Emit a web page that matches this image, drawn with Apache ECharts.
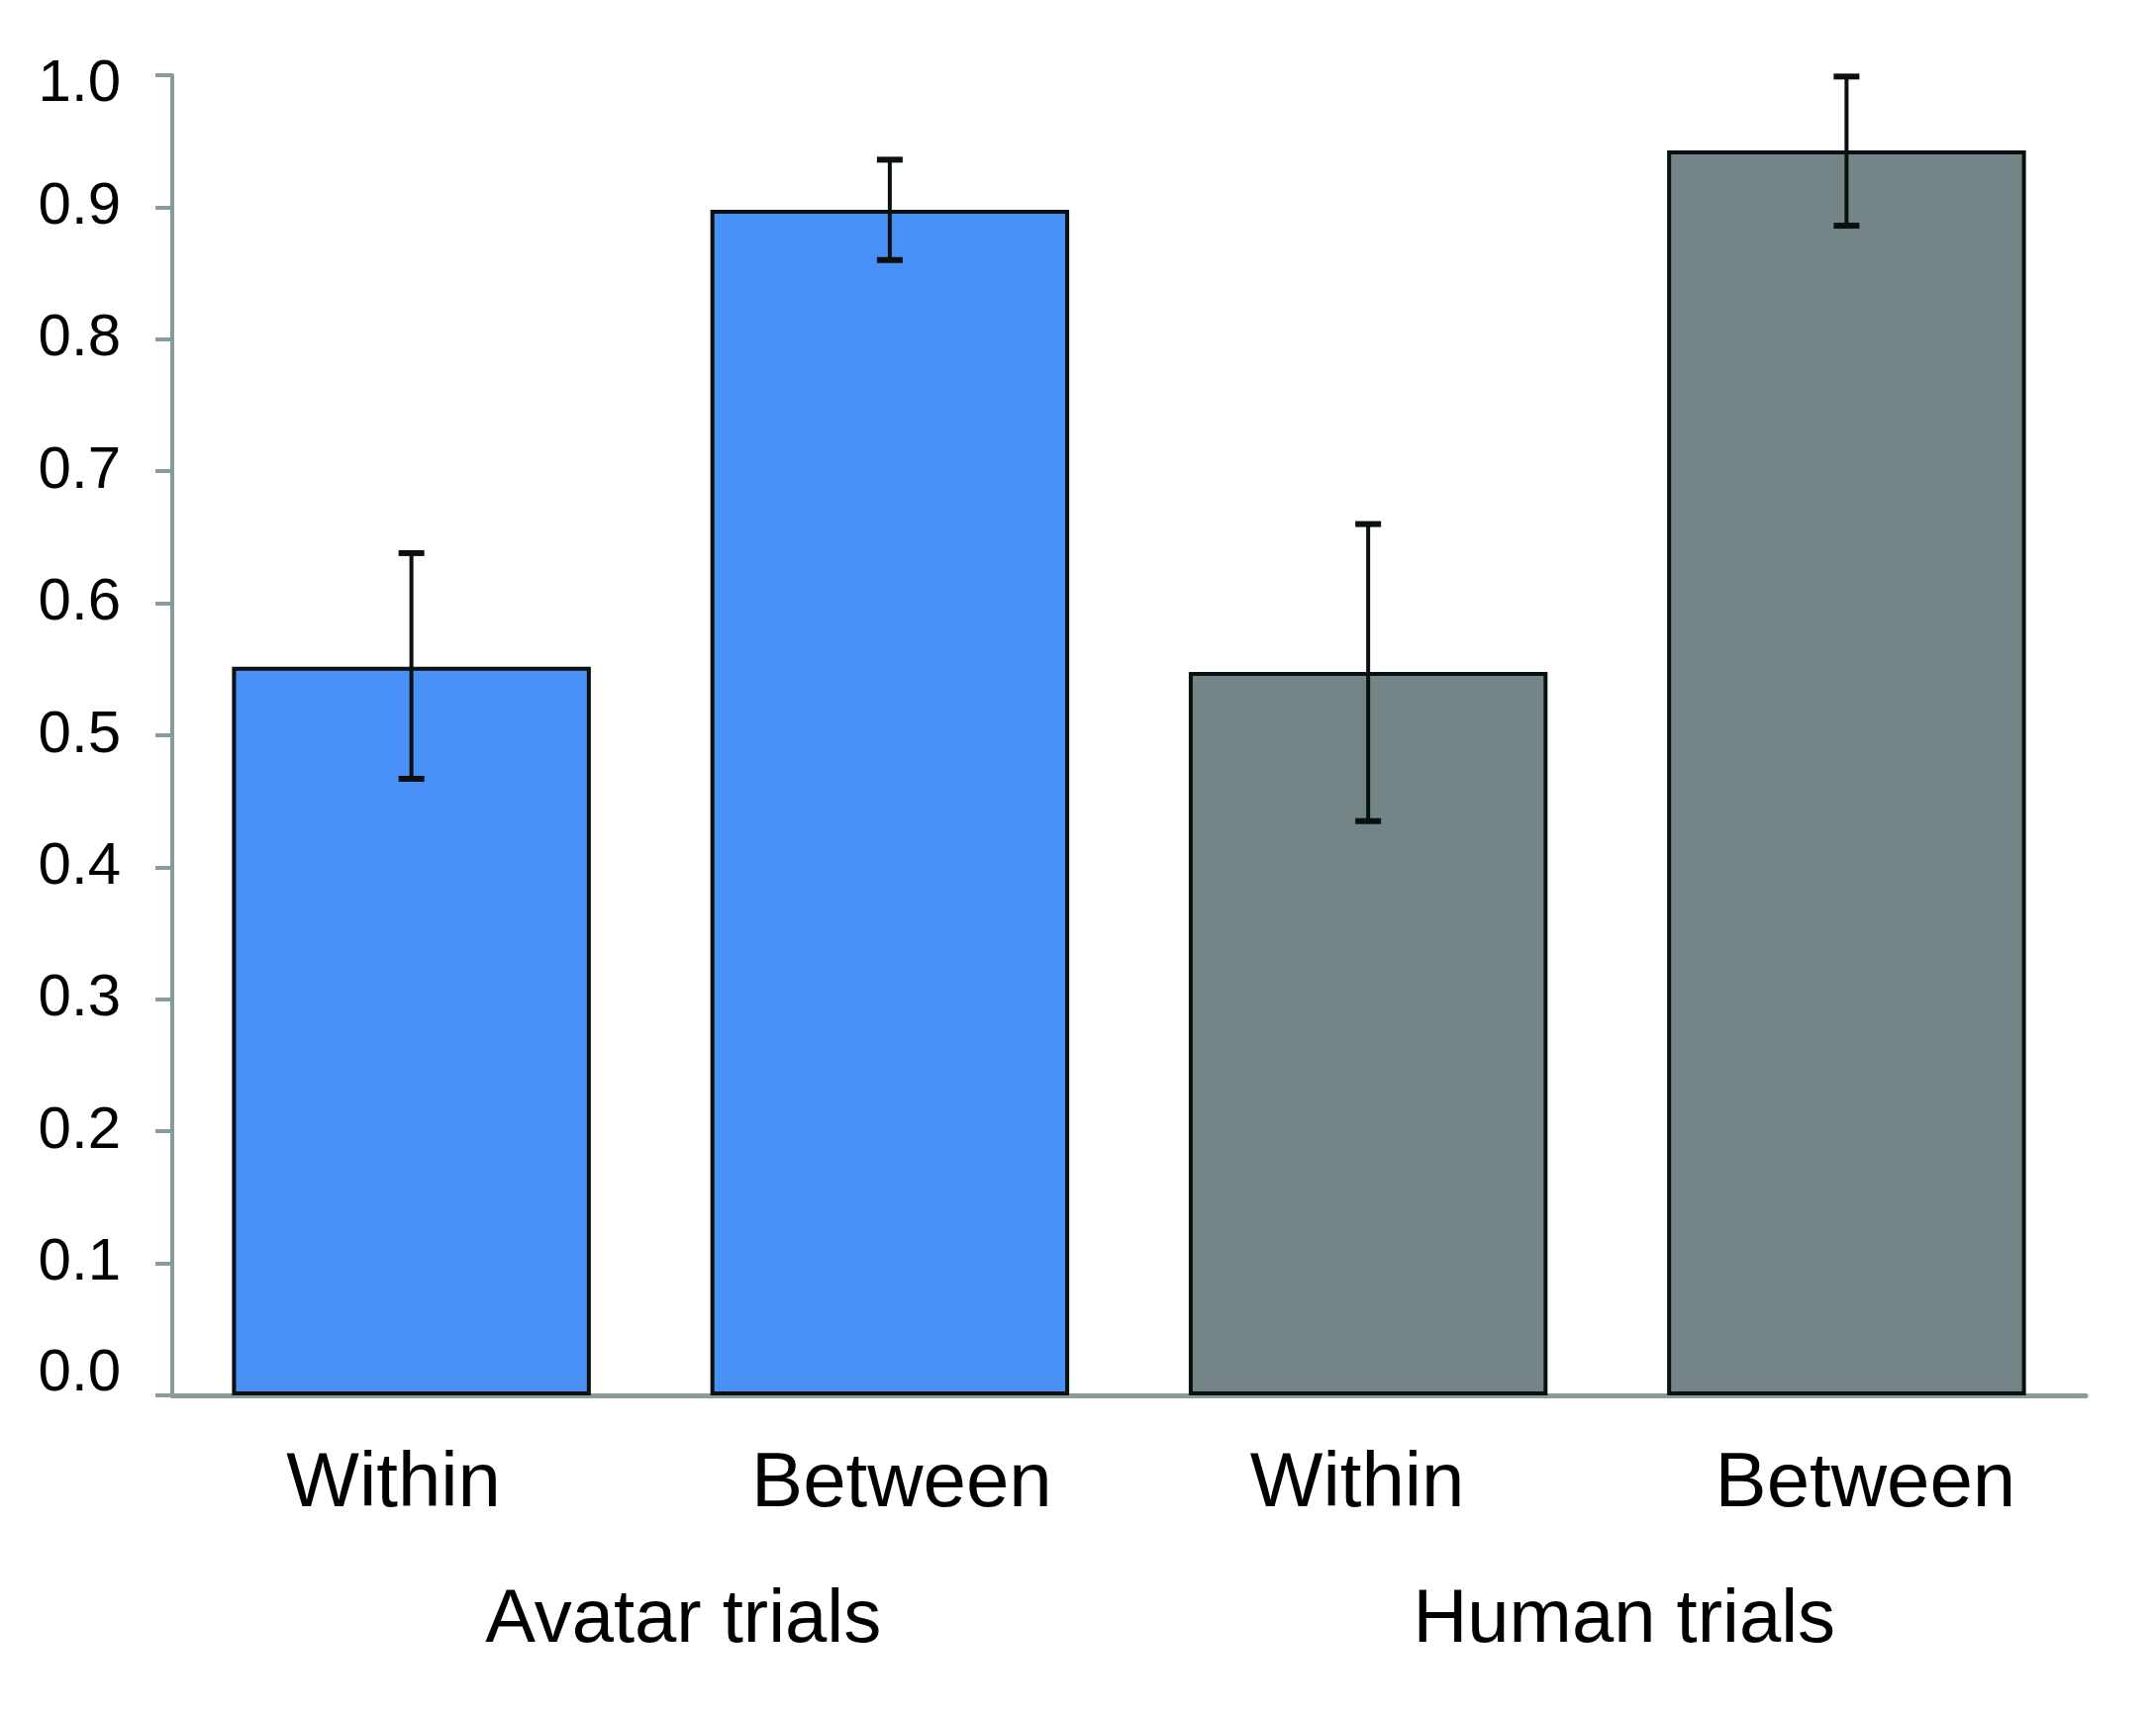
<!DOCTYPE html>
<html>
<head>
<meta charset="utf-8">
<script src="https://cdn.jsdelivr.net/npm/echarts@6/dist/echarts.min.js"></script>
<style>
html,body{margin:0;padding:0;background:#fff;}
#chart{width:2178px;height:1734px;}
</style>
</head>
<body>
<div id="chart"></div>
<script>
// ---- data ----
var categories = ['Within', 'Between', 'Within', 'Between'];
var groups = ['Avatar trials', 'Human trials'];
var values = [0.552, 0.898, 0.548, 0.943];
var errLow = [0.467, 0.860, 0.435, 0.886];
var errHigh = [0.638, 0.936, 0.660, 0.999];
var barColors = ['#4990F6', '#4990F6', '#738587', '#738587'];
var yTicks = [0, 0.1, 0.2, 0.3, 0.4, 0.5, 0.6, 0.7, 0.8, 0.9, 1.0];

var FONT = "'Liberation Sans', Arial, sans-serif";
var AXIS = '#8A9B9B';

var chart = echarts.init(document.getElementById('chart'), null, {renderer: 'canvas'});

var barData = values.map(function (v, i) {
  return {value: v, itemStyle: {color: barColors[i]}};
});
var errData = values.map(function (v, i) {
  return [i, errLow[i], errHigh[i]];
});

// small horizontal nudges of the category / group labels (as in the original figure)
var catRich = {
  c0: {fontFamily: FONT, fontSize: 78, color: '#000', padding: [0, 36, 0, 0]},
  c1: {fontFamily: FONT, fontSize: 78, color: '#000', padding: [0, 0, 0, 24]},
  c2: {fontFamily: FONT, fontSize: 78, color: '#000', padding: [0, 22, 0, 0]},
  c3: {fontFamily: FONT, fontSize: 78, color: '#000', padding: [0, 0, 0, 38]}
};
var grpRich = {
  g0: {fontFamily: FONT, fontSize: 76, color: '#000', padding: [0, 0, 0, 66]},
  g1: {fontFamily: FONT, fontSize: 76, color: '#000', padding: [0, 0, 0, 34]}
};

var option = {
  backgroundColor: '#ffffff',
  animation: false,
  grid: {left: 174, right: 71, top: 76, bottom: 324, containLabel: false},
  xAxis: [
    {
      type: 'category',
      data: categories,
      position: 'bottom',
      axisLine: {show: true, lineStyle: {color: AXIS, width: 5}},
      axisTick: {show: false},
      axisLabel: {
        show: true, interval: 0, hideOverlap: false,
        color: '#000', fontFamily: FONT, fontSize: 78, margin: 51,
        formatter: function (v, i) { return '{c' + i + '|' + v + '}'; },
        rich: catRich
      },
      splitLine: {show: false}
    },
    {
      type: 'category',
      data: groups,
      position: 'bottom',
      axisLine: {show: false},
      axisTick: {show: false},
      axisLabel: {
        show: true, interval: 0, hideOverlap: false,
        color: '#000', fontFamily: FONT, fontSize: 76, margin: 190,
        formatter: function (v, i) { return '{g' + i + '|' + v + '}'; },
        rich: grpRich
      },
      splitLine: {show: false}
    }
  ],
  yAxis: {
    type: 'value',
    min: 0,
    max: 1,
    interval: 0.1,
    axisLine: {show: true, lineStyle: {color: AXIS, width: 4}},
    axisTick: {show: true, length: 17, lineStyle: {color: AXIS, width: 4}},
    splitLine: {show: false},
    axisLabel: {
      color: '#000', fontFamily: FONT, fontSize: 60, margin: 52,
      formatter: function (v) {
        var s = (Math.round(v * 10) / 10).toFixed(1);
        if (v >= 0.999) return '{top|' + s + '}';
        if (v <= 0.001) return '{bot|' + s + '}';
        return s;
      },
      rich: {
        top: {fontFamily: FONT, fontSize: 60, color: '#000', padding: [18, 0, 0, 0]},
        bot: {fontFamily: FONT, fontSize: 60, color: '#000', padding: [0, 0, 44, 0]}
      }
    }
  },
  series: [
    {
      type: 'bar',
      xAxisIndex: 0,
      data: barData,
      barWidth: '75%',
      itemStyle: {borderColor: '#0A0F0F', borderWidth: 4}
    },
    {
      type: 'custom',
      xAxisIndex: 0,
      data: errData,
      z: 10,
      renderItem: function (params, api) {
        var x = api.value(0);
        var lo = api.coord([x, api.value(1)]);
        var hi = api.coord([x, api.value(2)]);
        var half = 13;
        var st = {stroke: '#0A0F0F', lineWidth: 4};
        var cap = {stroke: '#0A0F0F', lineWidth: 6};
        return {
          type: 'group',
          children: [
            {type: 'line', shape: {x1: lo[0], y1: lo[1], x2: hi[0], y2: hi[1]}, style: st},
            {type: 'line', shape: {x1: hi[0] - half, y1: hi[1], x2: hi[0] + half, y2: hi[1]}, style: cap},
            {type: 'line', shape: {x1: lo[0] - half, y1: lo[1], x2: lo[0] + half, y2: lo[1]}, style: cap}
          ]
        };
      }
    }
  ]
};
chart.setOption(option);
</script>
</body>
</html>
